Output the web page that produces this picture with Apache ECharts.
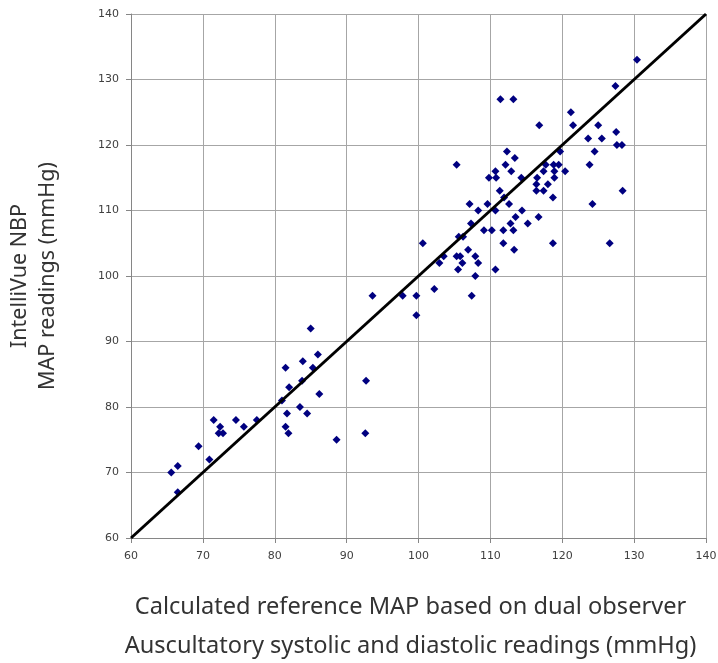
<!DOCTYPE html>
<html>
<head>
<meta charset="utf-8">
<script src="https://cdn.jsdelivr.net/npm/echarts@6/dist/echarts.min.js"></script>
<style>
  html, body { margin: 0; padding: 0; background: #ffffff; }
  #chart { width: 718px; height: 663px; }
</style>
</head>
<body>
<div id="chart"></div>
<script>
// Reference MAP (dual observer auscultation) vs IntelliVue NBP MAP, mmHg
const referenceMap = [
  65.6, 66.5, 66.5, 69.4, 70.9, 71.5, 72.4, 72.2, 72.8, 74.6,
  75.7, 77.5, 81.0, 81.5, 82.0, 81.7, 81.5, 81.9, 83.5, 83.9,
  84.5, 85.0, 85.3, 86.0, 86.2, 83.8, 88.6, 92.6, 92.7, 93.6,
  97.8, 99.7, 99.7, 102.2, 107.4, 100.6, 105.3, 110.7, 109.8, 110.8,
  111.3, 107.1, 109.6, 108.3, 110.7, 107.3, 109.1, 110.2, 105.6, 106.2,
  106.9, 105.3, 105.8, 107.9, 103.5, 102.9, 106.1, 108.3, 105.5, 110.7,
  107.9, 111.4, 113.2, 116.8, 112.3, 113.4, 112.1, 112.9, 114.3, 119.7,
  117.7, 118.8, 119.5, 117.4, 118.9, 120.4, 116.5, 118.9, 116.4, 118.0,
  116.4, 117.4, 111.9, 118.7, 112.6, 114.4, 113.5, 116.7, 112.8, 115.2,
  111.8, 113.2, 111.8, 118.7, 113.3, 130.4, 127.4, 121.2, 121.5, 125.0,
  127.5, 123.6, 125.5, 127.6, 128.3, 124.5, 123.8, 128.4, 124.2, 126.6
];
const nbpMap = [
  70, 71, 67, 74, 72, 78, 77, 76, 76, 78,
  77, 78, 81, 86, 83, 79, 77, 76, 80, 87,
  79, 92, 86, 88, 82, 84, 75, 76, 84, 97,
  97, 97, 94, 98, 97, 105, 117, 116, 115, 115,
  113, 111, 111, 110, 110, 108, 107, 107, 106, 106,
  104, 103, 103, 103, 103, 102, 102, 102, 101, 101,
  100, 127, 127, 123, 119, 118, 117, 116, 115, 119,
  117, 117, 117, 116, 116, 116, 115, 115, 114, 114,
  113, 113, 112, 112, 111, 110, 109, 109, 108, 108,
  107, 107, 105, 105, 104, 133, 129, 125, 123, 123,
  122, 121, 121, 120, 120, 119, 117, 113, 111, 105
];
// Line of identity
const identityLine = [[60, 60], [140, 140]];
const axisMin = 60;
const axisMax = 140;
const axisStep = 10;

const xTitle = 'Calculated reference MAP based on dual observer\nAuscultatory systolic and diastolic readings (mmHg)';
const yTitle = 'IntelliVue NBP\nMAP readings (mmHg)';

const points = referenceMap.map((x, i) => [x, nbpMap[i]]);

const gridLine = { show: true, lineStyle: { color: '#a6a6a6', width: 1 } };
const tickLabel = { color: '#404040', fontSize: 11, fontFamily: 'DejaVu Sans' };

const chart = echarts.init(document.getElementById('chart'), null, { renderer: 'canvas' });
chart.setOption({
  animation: false,
  backgroundColor: '#ffffff',
  grid: {
    left: 131, top: 14, width: 575, height: 524,
    containLabel: false, outerBoundsMode: 'none'
  },
  xAxis: {
    type: 'value', min: axisMin, max: axisMax, interval: axisStep,
    name: xTitle, nameLocation: 'middle', nameGap: 50,
    nameTextStyle: {
      color: '#333333', fontSize: 23.6, fontFamily: 'Noto Sans', lineHeight: 39,
      padding: [0, 16, 0, 0]
    },
    axisLine: { show: true, lineStyle: { color: '#868686', width: 1 } },
    axisTick: { show: true, length: 5, lineStyle: { color: '#868686' } },
    axisLabel: Object.assign({ margin: 13 }, tickLabel),
    splitLine: gridLine
  },
  yAxis: {
    type: 'value', min: axisMin, max: axisMax, interval: axisStep,
    name: yTitle, nameLocation: 'middle', nameGap: 69,
    nameTextStyle: { color: '#333333', fontSize: 21.5, fontFamily: 'Noto Sans', lineHeight: 28 },
    axisLine: { show: true, lineStyle: { color: '#868686', width: 1 } },
    axisTick: { show: true, length: 5, lineStyle: { color: '#868686' } },
    axisLabel: Object.assign({ margin: 12 }, tickLabel),
    splitLine: gridLine
  },
  series: [
    {
      type: 'scatter',
      data: points,
      symbol: 'diamond',
      symbolSize: 8,
      itemStyle: { color: '#000080', opacity: 1 },
      z: 2
    },
    {
      type: 'line',
      data: identityLine,
      symbol: 'none',
      lineStyle: { color: '#000000', width: 3 },
      z: 3
    }
  ]
});
</script>
</body>
</html>
